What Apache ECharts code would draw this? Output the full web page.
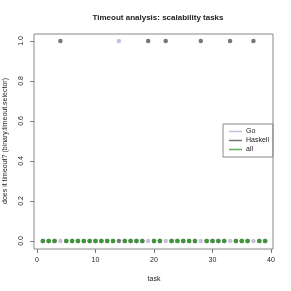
<!DOCTYPE html>
<html><head><meta charset="utf-8">
<script src="https://cdn.jsdelivr.net/npm/echarts@6/dist/echarts.min.js"></script>
<style>html,body{margin:0;padding:0;background:#fff}#c{width:291px;height:291px}</style>
</head><body><div id="c"></div>
<script>
const tasks = [1,2,3,4,5,6,7,8,9,10,11,12,13,14,15,16,17,18,19,20,21,22,23,24,25,26,27,28,29,30,31,32,33,34,35,36,37,38,39];
const goTimeout =      [0,0,0,0,0,0,0,0,0,0,0,0,0,1,0,0,0,0,0,0,0,0,0,0,0,0,0,0,0,0,0,0,0,0,0,0,0,0,0];
const haskellTimeout = [0,0,0,1,0,0,0,0,0,0,0,0,0,0,0,0,0,0,1,0,0,1,0,0,0,0,0,1,0,0,0,0,1,0,0,0,1,0,0];
const allTimeout =     [0,0,0,null,0,0,0,0,0,0,0,0,0,null,0,0,0,0,null,0,0,null,0,0,0,0,0,null,0,0,0,0,null,0,0,0,null,0,0];
const xTicks = [0,10,20,30,40];
const yTicks = [0,0.2,0.4,0.6,0.8,1.0];
const seriesNames = ['Go','Haskell','all'];
const colors = ['#BEAED4','#555555','#33A02C'];

const font = 'Liberation Sans, Arial, sans-serif';
const pair = arr => tasks.map((t,i)=> arr[i]===null ? null : [t, arr[i]]).filter(p=>p);
const chart = echarts.init(document.getElementById('c'), null, {renderer:'canvas'});
chart.setOption({
  animation:false,
  backgroundColor:'#fff',
  title:{text:'Timeout analysis: scalability tasks', left:153, top:9, textAlign:'center',
    textStyle:{fontFamily:font,fontSize:8,fontWeight:'bold',color:'#222'}},
  grid:{left:37,right:20,top:41,bottom:50,containLabel:false,outerBoundsMode:'none'},
  xAxis:{type:'value',min:xTicks[0],max:xTicks[xTicks.length-1],interval:10,offset:8,
    name:'task',nameLocation:'middle',nameGap:27,
    nameTextStyle:{fontFamily:font,fontSize:7,color:'#222'},
    axisLine:{show:false,onZero:false},
    axisTick:{show:true,length:4,lineStyle:{color:'#777'}},
    axisLabel:{fontFamily:font,fontSize:7,color:'#222',margin:8},
    splitLine:{show:false}},
  yAxis:{type:'value',min:yTicks[0],max:yTicks[yTicks.length-1],interval:0.2,offset:3,
    name:'does it timeout? (binary.timeout.selector)',nameLocation:'middle',nameGap:25,
    nameTextStyle:{fontFamily:font,fontSize:7,color:'#222'},
    axisLine:{show:false,onZero:false},
    axisTick:{show:true,length:4,lineStyle:{color:'#777'}},
    axisLabel:{fontFamily:font,fontSize:7,color:'#222',rotate:90,margin:9,
      formatter:v=>v.toFixed(1)},
    splitLine:{show:false}},
  legend:{orient:'vertical',left:223,top:124,width:49,
    borderColor:'#888',borderWidth:1,padding:[4,4,4,6],itemGap:2,
    itemWidth:13,itemHeight:1.5,icon:'rect',
    textStyle:{fontFamily:font,fontSize:7,color:'#222',padding:[0,0,0,-1]},
    data:seriesNames},
  series:[
    {name:seriesNames[0],type:'scatter',data:pair(goTimeout),symbolSize:4.5,itemStyle:{color:colors[0]}},
    {name:seriesNames[1],type:'scatter',data:pair(haskellTimeout),symbolSize:4.5,itemStyle:{color:colors[1]}},
    {name:seriesNames[2],type:'scatter',data:pair(allTimeout),symbolSize:4.5,itemStyle:{color:colors[2]}}
  ],
  graphic:[{type:'rect',shape:{x:34,y:34,width:239,height:215},
    style:{fill:'none',stroke:'#888',lineWidth:1},silent:true,z:-1}]
});
</script></body></html>
